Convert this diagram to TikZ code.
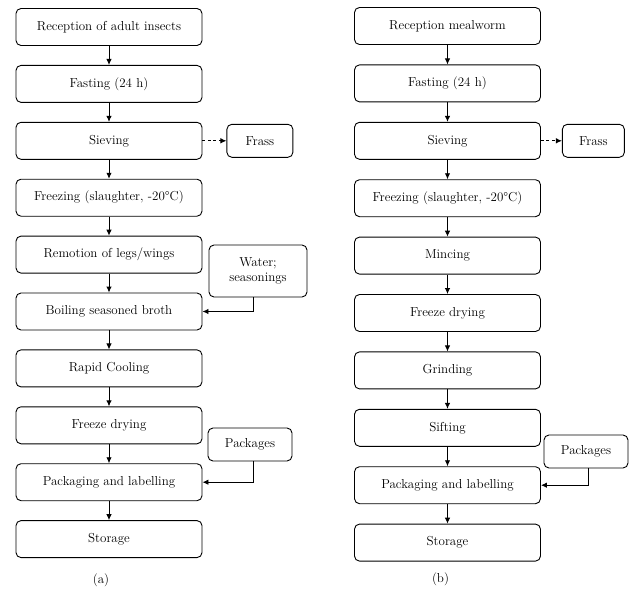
\documentclass[tikz,border=0pt]{standalone}
\usetikzlibrary{positioning,arrows.meta}
\begin{document}
\begin{tikzpicture}[x=1pt, y=1pt, node distance=19pt,
    stepbox/.style={draw, line width=0.9pt, rounded corners=5pt, minimum width=186pt,
      minimum height=37pt, inner sep=2pt, font=\fontsize{13}{15}\selectfont},
    sidebox/.style={draw, line width=0.9pt, rounded corners=5pt, minimum width=84pt,
      minimum height=33pt, inner sep=2pt, align=center, font=\fontsize{13}{15}\selectfont},
    flow/.style={line width=0.9pt, -{Latex[length=6pt,width=5.5pt]}}]
    \useasboundingbox (0,0) rectangle (630,-589);
    \node [stepbox] (a1) at (109,-27) {Reception of adult insects};
    \node [stepbox, below=of a1] (a2) {Fasting (24 h)};
    \node [stepbox, below=of a2] (a3) {Sieving};
    \node [stepbox, below=of a3] (a4) {Freezing (slaughter, -20\textdegree C)};
    \node [stepbox, below=of a4] (a5) {Remotion of legs/wings};
    \node [stepbox, below=of a5] (a6) {Boiling seasoned broth};
    \node [stepbox, below=of a6] (a7) {Rapid Cooling};
    \node [stepbox, below=of a7] (a8) {Freeze drying};
    \node [stepbox, below=of a8] (a9) {Packaging and labelling};
    \node [stepbox, below=of a9] (a10) {Storage};
    \node [sidebox, minimum width=66pt, right=24pt of a3] (frassA) {Frass};
    \node [sidebox, minimum width=98pt, minimum height=52pt] (water) at (258,-271) {Water;\\seasonings};
    \node [sidebox] (packA) at (250,-444.5) {Packages};
    \node [font=\fontsize{13}{15}\selectfont] (capA) at (101,-580) {(a)};

    \node [stepbox] (b1) at (447.5,-26) {Reception mealworm};
    \node [stepbox, below=19.5pt of b1] (b2) {Fasting (24 h)};
    \node [stepbox, below=19.5pt of b2] (b3) {Sieving};
    \node [stepbox, below=19.5pt of b3] (b4) {Freezing (slaughter, -20\textdegree C)};
    \node [stepbox, below=19.5pt of b4] (b5) {Mincing};
    \node [stepbox, below=19.5pt of b5] (b6) {Freeze drying};
    \node [stepbox, below=19.5pt of b6] (b7) {Grinding};
    \node [stepbox, below=19.5pt of b7] (b8) {Sifting};
    \node [stepbox, below=19.5pt of b8] (b9) {Packaging and labelling};
    \node [stepbox, below=19.5pt of b9] (b10) {Storage};
    \node [sidebox, minimum width=62pt, right=21pt of b3] (frassB) {Frass};
    \node [sidebox] (packB) at (586,-451.5) {Packages};
    \node [font=\fontsize{13}{15}\selectfont] (capB) at (440.5,-579) {(b)};

    \path [flow] (a1) edge (a2) (a2) edge (a3) (a3) edge (a4) (a4) edge (a5) (a5) edge (a6)
        (a6) edge (a7) (a7) edge (a8) (a8) edge (a9) (a9) edge (a10);
    \path [flow] (b1) edge (b2) (b2) edge (b3) (b3) edge (b4) (b4) edge (b5) (b5) edge (b6)
        (b6) edge (b7) (b7) edge (b8) (b8) edge (b9) (b9) edge (b10);
    \draw [flow, dash pattern=on 3pt off 2.5pt] (a3) -- (frassA);
    \draw [flow, dash pattern=on 3pt off 2.5pt] (b3) -- (frassB);
    \draw [flow] ([xshift=-5pt]water.south) |- (a6);
    \draw [flow] ([xshift=3pt]packA.south) |- (a9);
    \draw [flow] ([xshift=2pt]packB.south) |- (b9);
\end{tikzpicture}
\end{document}
